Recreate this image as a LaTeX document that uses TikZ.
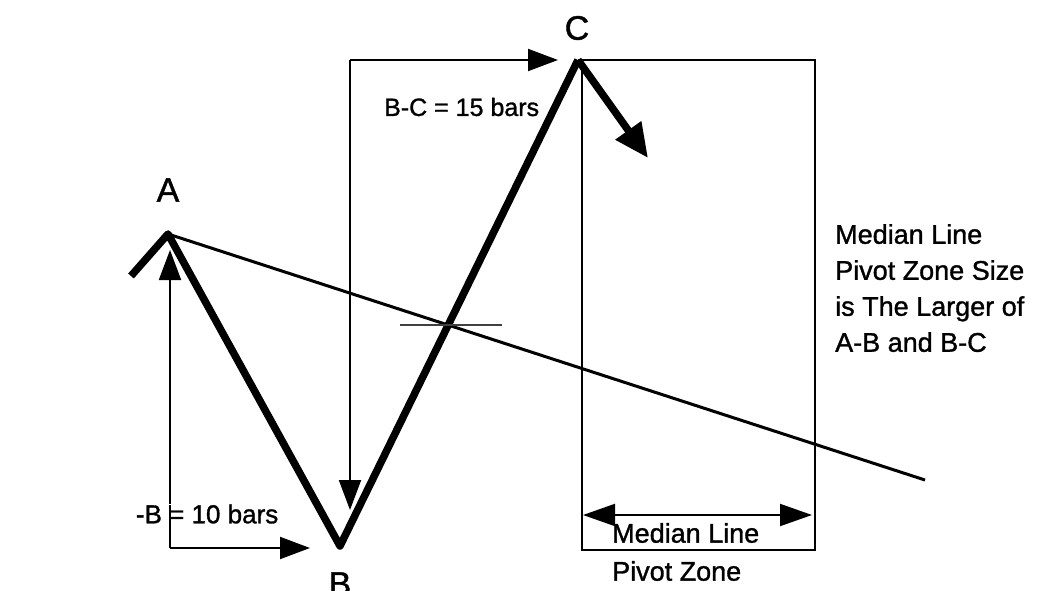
\documentclass[tikz,border=0pt]{standalone}
\usepackage{fontspec}
\setmainfont{Liberation Sans}[RawFeature={embolden=1.2}]
\usetikzlibrary{arrows.meta}

\begin{document}
\begin{tikzpicture}[x=1pt, y=-1pt,
    zig/.style={line width=7.5pt, line join=round},
    thin/.style={line width=2pt},
    arr/.style={-{Triangle[length=30pt, width=22pt]}, line width=2pt},
    lbl/.style={inner sep=0pt, font=\fontsize{25}{30}\selectfont},
    pnt/.style={inner sep=0pt, font=\fontsize{34}{40}\selectfont},
    note/.style={inner sep=0pt, align=left, font=\fontsize{27}{36}\selectfont}
]
    \useasboundingbox (0,0) rectangle (1042,591);

    % swing points
    \coordinate (start) at (131,276);
    \coordinate (A) at (168,234);
    \coordinate (B) at (340,546);
    \coordinate (C) at (578,60);
    \coordinate (Cend) at (648,158);
    \coordinate (mlend) at (925,480);

    \node[pnt] (Alabel) at (168,190) {A};
    \node[pnt] (Blabel) at (340,584) {B};
    \node[pnt] (Clabel) at (577,28) {C};

    % median line and zigzag
    \draw[line width=3pt] (A) -- (mlend);
    \draw[zig] (start) -- (A) -- (B) -- (C);
    \draw[zig, -{Triangle[length=34pt, width=30pt]}] (C) -- (Cend);

    \coordinate (tickl) at (400,325);
    \coordinate (tickr) at (502,325);
    \draw[black!75, line width=2pt] (tickl) -- (tickr);

    % A-B count
    \coordinate (abcorner) at (170,548);
    \coordinate (abtop) at (170,250);
    \coordinate (abright) at (310,548);
    \draw[arr] (abcorner) -- (abtop);
    \draw[arr] (abcorner) -- (abright);
    \node[lbl, anchor=east, fill=white, inner sep=0.5pt, font=\fontsize{26}{30}\selectfont] (ablabel) at (279,514) {-B = 10 bars};
    \draw[thin] (170,505) -- (170,524);

    % B-C count
    \coordinate (bccorner) at (350,60);
    \coordinate (bcbottom) at (350,510);
    \coordinate (bcright) at (558,60);
    \draw[arr] (bccorner) -- (bcbottom);
    \draw[arr] (bccorner) -- (bcright);
    \node[lbl, anchor=west] (bclabel) at (384,107) {B-C = 15 bars};

    % pivot zone
    \coordinate (zonetl) at (582,60);
    \coordinate (zonebr) at (815,550);
    \draw[thin] (C) -- (zonetl);
    \draw[thin] (zonetl) rectangle (zonebr);
    \coordinate (zl) at (583,515);
    \coordinate (zr) at (812,515);
    \draw[thin, {Triangle[length=32pt, width=22pt]}-{Triangle[length=32pt, width=22pt]}] (zl) -- (zr);
    \node[note, anchor=west, font=\fontsize{27}{38}\selectfont] (zonename) at (612,552) {Median Line\\Pivot Zone};

    \node[note, anchor=north west] (rule) at (835,224) {Median Line\\Pivot Zone Size\\is The Larger of\\A-B and B-C};
\end{tikzpicture}
\end{document}
